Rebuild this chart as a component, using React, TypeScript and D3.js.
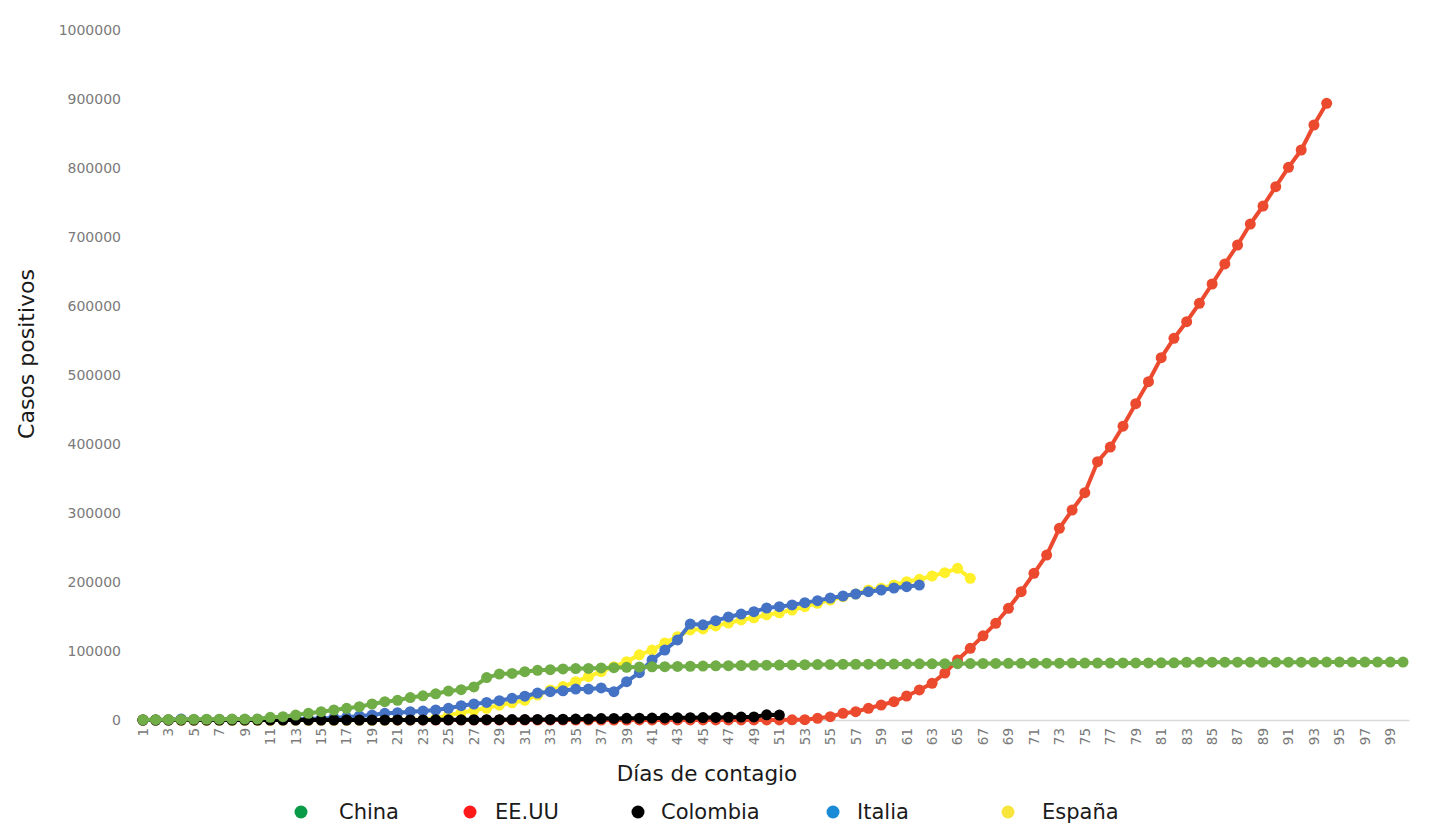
import React from "react";
import * as d3 from "d3";

const days: number[] = Array.from({ length: 100 }, (_, i) => i + 1);
const yTicks: number[] = [0, 100000, 200000, 300000, 400000, 500000, 600000, 700000, 800000, 900000, 1000000];
const xTickLabels: number[] = days.filter((d) => d % 2 === 1);

const china: number[] = [
  300, 450, 600, 800, 1000, 1100, 1200, 1300, 1400, 1500,
  3900, 4800, 7200, 9700, 12000, 14500, 17000, 19300, 23200, 26500,
  28500, 32500, 35000, 38000, 42000, 44000, 48000, 61500, 66500, 67500,
  70000, 72000, 73000, 74000, 74500, 74800, 75400, 75900, 76300, 76700,
  77000, 77300, 77600, 77900, 78200, 78500, 78800, 79000, 79200, 79400,
  79600, 79800, 80100, 80300, 80500, 80700, 80800, 80900, 81000, 81100,
  81300, 81400, 81500, 81600, 81700, 81800, 81900, 82000, 82100, 82200,
  82300, 82350, 82400, 82450, 82500, 82550, 82600, 82650, 82700, 82750,
  82800, 82850, 83700, 83750, 83780, 83800, 83810, 83820, 83830, 83840,
  83850, 83860, 83870, 83880, 83890, 83900, 83910, 83920, 83930, 83940,
];

const eeuu: number[] = [
  1, 1, 1, 2, 3, 5, 5, 5, 5, 6,
  7, 8, 8, 8, 8, 8, 11, 11, 11, 12,
  12, 12, 12, 12, 13, 13, 14, 14, 14, 14,
  14, 15, 15, 15, 15, 15, 15, 15, 15, 35,
  35, 35, 53, 53, 59, 60, 62, 70, 76, 101,
  122, 200, 400, 2400, 4800, 9700, 12000, 17000, 21700, 26500,
  34800, 43500, 53200, 68000, 87000, 103900, 122000, 140100, 161900, 185900,
  212600, 239100, 277800, 304300, 329400, 374400, 395600, 425800, 458500, 490300,
  525100, 553200, 577300, 603900, 631900, 660900, 688400, 718800, 744900, 772900,
  801000, 826100, 862300, 893800,
];

const colombia: number[] = [
  0, 0, 0, 0, 0, 0, 0, 0, 0, 0,
  0, 0, 0, 0, 0, 0, 0, 0, 0, 0,
  50, 100, 150, 200, 250, 300, 350, 400, 500, 600,
  700, 800, 900, 1100, 1300, 1600, 2000, 2200, 2400, 2600,
  2800, 3000, 3200, 3400, 3600, 3800, 4000, 4200, 4500, 7500,
  7200,
];

const italia: number[] = [
  0, 0, 100, 1500, 400, 500, 600, 700, 800, 900,
  1000, 1100, 1300, 1600, 2000, 3400, 3900, 5800, 7200, 9700,
  10600, 12000, 13000, 14500, 17000, 20700, 23200, 25500, 28000, 31500,
  34500, 39100, 41000, 42400, 44900, 44900, 46400, 41000, 55500, 68600,
  87000, 101400, 116000, 139100, 137900, 144000, 149300, 153600, 157000, 162300,
  164300, 166700, 170100, 173000, 176800, 179700, 182600, 186000, 188400, 191300,
  193200, 195600,
];

const espana: number[] = [
  0, 0, 0, 0, 0, 0, 0, 0, 0, 0,
  0, 0, 0, 0, 0, 0, 0, 0, 0, 0,
  100, 200, 500, 2000, 7000, 10500, 14000, 17000, 21500, 25000,
  28500, 36200, 43500, 48400, 55500, 62800, 70000, 77300, 84600, 94400,
  101400, 111600, 120800, 130500, 132000, 136400, 140500, 145000, 148100, 152400,
  155300, 159400, 164300, 169100, 173900, 178800, 182600, 188400, 190800, 195600,
  200400, 203900, 208700, 213500, 219800, 205300,
];

const seriesNames: string[] = ["China", "EE.UU", "Colombia", "Italia", "España"];
const lineColors: string[] = ["#70AD47", "#EC4A2E", "#000000", "#4472C4", "#FFF02A"];
const legendColors: string[] = ["#0A9B48", "#FF1A1A", "#000000", "#1A8AD6", "#F7E53B"];
const seriesValues: number[][] = [china, eeuu, colombia, italia, espana];
const drawOrder: number[] = [1, 4, 3, 2, 0];

const legendMarkerX: number[] = [301, 470, 638, 833, 1008];
const legendTextX: number[] = [339, 495, 661, 857, 1042];

const W = 1434;
const H = 825;
const FONT = "'DejaVu Sans', Verdana, sans-serif";

export default function App() {
  const x = d3
    .scaleBand<string>()
    .domain(days.map(String))
    .range([136.6, 1409.4])
    .padding(0);
  const bw = x.bandwidth();
  const xc = (d: number) => (x(String(d)) as number) + bw / 2;
  const y = d3.scaleLinear().domain([0, 1000000]).range([720, 30]);

  const line = d3
    .line<number>()
    .x((_, i) => xc(i + 1))
    .y((v) => y(v));

  return (
    <svg
      width={W}
      height={H}
      style={{ position: "absolute", left: 0, top: 0, background: "#fff" }}
      fontFamily={FONT}
    >
      <rect x={0} y={0} width={W} height={H} fill="#ffffff" />
      {yTicks.map((t) => (
        <text
          key={t}
          x={121}
          y={y(t)}
          dy="0.36em"
          textAnchor="end"
          fontSize={14}
          fill="#7a7a7a"
        >
          {t}
        </text>
      ))}
      <line x1={136.6} x2={1409.4} y1={720.5} y2={720.5} stroke="#d9d9d9" strokeWidth={1.5} />
      {xTickLabels.map((d) => (
        <text
          key={d}
          transform={`translate(${xc(d)},728) rotate(-90)`}
          dy="0.36em"
          textAnchor="end"
          fontSize={13.5}
          fill="#7a7a7a"
        >
          {d}
        </text>
      ))}
      {drawOrder.map((si) => {
        const vals = seriesValues[si];
        return (
          <g key={seriesNames[si]}>
            <path
              d={line(vals) || ""}
              fill="none"
              stroke={lineColors[si]}
              strokeWidth={4}
              strokeLinejoin="round"
            />
            {vals.map((v, i) => (
              <circle key={i} cx={xc(i + 1)} cy={y(v)} r={5.5} fill={lineColors[si]} />
            ))}
          </g>
        );
      })}
      <text x={707} y={781} textAnchor="middle" fontSize={21.5} fill="#1a1a1a">
        Días de contagio
      </text>
      <text
        transform="translate(34,354) rotate(-90)"
        textAnchor="middle"
        fontSize={22}
        fill="#1a1a1a"
      >
        Casos positivos
      </text>
      {seriesNames.map((n, i) => (
        <g key={n}>
          <circle cx={legendMarkerX[i]} cy={812} r={6.5} fill={legendColors[i]} />
          <text x={legendTextX[i]} y={819} fontSize={21} fill="#1a1a1a">
            {n}
          </text>
        </g>
      ))}
    </svg>
  );
}
